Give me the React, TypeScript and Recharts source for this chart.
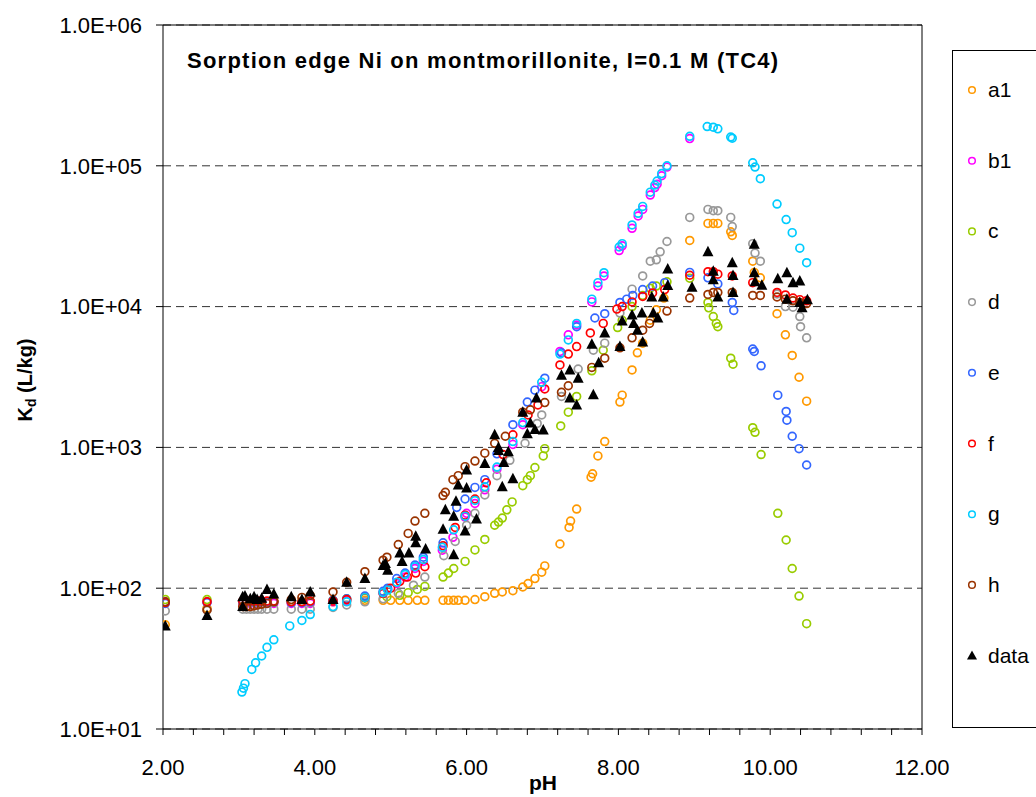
import React from "react";
import {
  ScatterChart,
  Scatter,
  XAxis,
  YAxis,
  CartesianGrid,
  ReferenceLine,
} from "recharts";

type Pt = [number, number];

// pH, Kd (L/kg)
const a1: Pt[] = [
  [2.03, 55], [2.58, 72], [3.05, 80], [3.15, 80], [3.25, 80], [3.37, 80], [3.46, 80],
  [3.69, 80], [3.83, 80], [3.94, 80], [4.24, 80], [4.42, 81], [4.66, 82], [4.9, 82],
  [5.0, 82], [5.12, 82], [5.23, 82], [5.35, 82], [5.45, 82], [5.69, 82], [5.76, 82],
  [5.83, 82], [5.89, 82], [5.98, 82], [6.11, 83], [6.24, 87], [6.37, 92], [6.47, 94],
  [6.61, 96], [6.74, 102], [6.81, 108], [6.9, 117], [6.99, 130], [7.03, 144],
  [7.23, 206], [7.35, 270], [7.37, 300], [7.45, 365], [7.64, 615], [7.66, 650],
  [7.73, 870], [7.82, 1100], [8.02, 2100], [8.05, 2350], [8.18, 3550], [8.25, 4700],
  [8.32, 5500], [8.42, 8000], [8.5, 9500], [8.6, 11500], [8.94, 29500], [9.18, 39000],
  [9.25, 39000], [9.31, 39000], [9.48, 34000], [9.5, 32000], [9.77, 21000],
  [9.79, 17500], [9.87, 16000], [10.09, 8900], [10.2, 6300], [10.29, 4500],
  [10.38, 3150], [10.48, 2130],
];

// b1 is hidden under g past the peak, so only the visible part is kept
const b1: Pt[] = [
  [2.03, 80], [2.58, 80], [3.05, 78], [3.15, 78], [3.25, 78], [3.37, 78], [3.46, 78],
  [3.69, 78], [3.83, 78], [3.94, 78], [4.24, 80], [4.42, 82], [4.66, 86], [4.9, 92],
  [4.96, 98], [5.08, 108], [5.19, 120], [5.32, 138], [5.43, 155], [5.68, 186],
  [5.82, 230], [5.98, 320], [6.0, 340], [6.11, 400], [6.24, 500], [6.4, 700],
  [6.61, 1050], [6.74, 1450], [6.99, 2700], [7.23, 4800], [7.34, 6300], [7.45, 7400],
  [7.65, 10800], [7.73, 14000], [7.81, 16500], [8.01, 25000], [8.05, 27000],
  [8.18, 36000], [8.26, 44000], [8.32, 49000], [8.42, 62000], [8.48, 70000],
  [8.51, 74000], [8.57, 85000], [8.64, 98000], [8.94, 156000],
];

const c: Pt[] = [
  [2.03, 83], [2.58, 83], [3.05, 80], [3.15, 80], [3.25, 80], [3.37, 80], [3.46, 80],
  [3.69, 80], [3.83, 80], [3.94, 80], [4.24, 82], [4.42, 84], [4.66, 85], [4.95, 87],
  [5.12, 89], [5.23, 93], [5.35, 98], [5.45, 103], [5.69, 120], [5.76, 128],
  [5.83, 138], [5.98, 155], [6.11, 187], [6.24, 222], [6.37, 280], [6.42, 295],
  [6.47, 315], [6.53, 360], [6.6, 410], [6.74, 535], [6.8, 590], [6.84, 630],
  [6.9, 720], [7.01, 870], [7.03, 980], [7.24, 1420], [7.34, 1780], [7.45, 2300],
  [7.65, 3500], [7.8, 4900], [7.99, 7100], [8.05, 8000], [8.18, 10000], [8.32, 12000],
  [8.42, 13500], [8.5, 14000], [8.64, 15000], [8.94, 15900], [9.18, 10700],
  [9.19, 9800], [9.25, 8500], [9.29, 7600], [9.31, 7200], [9.48, 4300], [9.51, 3900],
  [9.77, 1380], [9.8, 1280], [9.88, 890], [10.1, 340], [10.21, 220], [10.29, 138],
  [10.38, 88], [10.48, 56],
];

const d: Pt[] = [
  [2.03, 69], [2.58, 70], [3.05, 71], [3.1, 71], [3.15, 71], [3.2, 71], [3.25, 71],
  [3.3, 71], [3.37, 71], [3.46, 71], [3.69, 71], [3.83, 71], [3.94, 71], [4.24, 73],
  [4.42, 76], [4.66, 80], [4.9, 84], [5.1, 92], [5.3, 105], [5.45, 120], [5.7, 170],
  [5.85, 215], [6.0, 280], [6.11, 340], [6.24, 460], [6.4, 630], [6.57, 810],
  [6.77, 1070], [6.93, 1480], [6.99, 1700], [7.25, 2300], [7.47, 3600], [7.67, 4900],
  [7.82, 5500], [8.02, 9000], [8.18, 13300], [8.32, 16500], [8.42, 21000],
  [8.5, 21500], [8.55, 24500], [8.64, 29000], [8.94, 43000], [9.18, 49000],
  [9.25, 48000], [9.31, 48000], [9.48, 43000], [9.5, 37000], [9.77, 28000],
  [9.8, 24000], [9.87, 21000], [10.09, 12300], [10.2, 10000], [10.3, 9900],
  [10.39, 8500], [10.4, 7200], [10.48, 6000],
];

const e: Pt[] = [
  [2.03, 78], [2.58, 79], [3.05, 80], [3.1, 80], [3.15, 80], [3.2, 80], [3.25, 80],
  [3.3, 80], [3.37, 80], [3.46, 80], [3.69, 79], [3.83, 79], [3.94, 80], [4.24, 82],
  [4.42, 84], [4.66, 88], [4.9, 95], [4.96, 100], [5.08, 117], [5.19, 128],
  [5.32, 146], [5.43, 166], [5.69, 210], [5.87, 375], [5.98, 430], [6.11, 520],
  [6.24, 590], [6.4, 900], [6.61, 1450], [6.8, 2100], [6.9, 2550], [7.03, 3100],
  [7.25, 4700], [7.45, 7200], [7.69, 8300], [7.82, 8900], [8.02, 10700],
  [8.11, 11300], [8.19, 12000], [8.32, 13200], [8.45, 14000], [8.61, 14800],
  [8.94, 17500], [9.18, 16000], [9.31, 14500], [9.5, 10700], [9.52, 9400],
  [9.77, 5000], [9.79, 4800], [9.88, 3800], [10.1, 2350], [10.21, 1800],
  [10.22, 1560], [10.29, 1200], [10.38, 980], [10.48, 750],
];

const f: Pt[] = [
  [2.03, 79], [2.58, 80], [3.05, 81], [3.1, 81], [3.15, 81], [3.2, 81], [3.25, 81],
  [3.3, 81], [3.37, 81], [3.46, 81], [3.69, 80], [3.83, 80], [3.94, 81], [4.24, 81],
  [4.42, 83], [4.66, 86], [4.9, 92], [5.0, 100], [5.12, 112], [5.22, 120],
  [5.33, 128], [5.45, 142], [5.69, 200], [5.85, 270], [5.98, 330], [6.11, 430],
  [6.26, 560], [6.48, 890], [6.61, 1230], [6.81, 1700], [6.94, 2000], [7.03, 2600],
  [7.23, 3850], [7.34, 4600], [7.45, 5200], [7.63, 6500], [7.8, 7600], [7.98, 9600],
  [8.05, 10000], [8.18, 10800], [8.32, 11800], [8.45, 12500], [8.61, 13200],
  [8.94, 16700], [9.18, 17700], [9.25, 17700], [9.31, 17000], [9.5, 16500],
  [9.77, 14800], [10.09, 12600], [10.2, 12100], [10.3, 11500], [10.39, 11200],
  [10.48, 11000],
];

const g: Pt[] = [
  [3.04, 18.3], [3.06, 19.5], [3.08, 21], [3.17, 26.5], [3.22, 29.5], [3.3, 33],
  [3.37, 38], [3.46, 43], [3.67, 54], [3.83, 59], [3.94, 65], [4.24, 74], [4.42, 80],
  [4.66, 86], [4.9, 93], [4.96, 97], [5.08, 110], [5.19, 125], [5.32, 142],
  [5.43, 160], [5.68, 195], [5.83, 260], [5.98, 325], [6.11, 420], [6.24, 525],
  [6.4, 725], [6.61, 1100], [6.74, 1500], [6.99, 2900], [7.23, 4600], [7.34, 5800],
  [7.45, 7600], [7.65, 11300], [7.73, 14800], [7.81, 17400], [8.01, 26500],
  [8.05, 28000], [8.18, 38000], [8.26, 46000], [8.32, 51500], [8.42, 65000],
  [8.48, 73000], [8.51, 78000], [8.57, 88000], [8.64, 100000], [8.94, 162000],
  [9.17, 190000], [9.25, 188000], [9.31, 183000], [9.48, 160000], [9.5, 157000],
  [9.77, 105000], [9.8, 98000], [9.87, 81000], [10.09, 53500], [10.21, 41500],
  [10.29, 33500], [10.39, 26000], [10.48, 20500],
];

const h: Pt[] = [
  [2.03, 80], [2.58, 70], [3.05, 74], [3.1, 74], [3.15, 74], [3.2, 75], [3.25, 76],
  [3.3, 77], [3.37, 78], [3.46, 80], [3.69, 83], [3.83, 86], [3.94, 89], [4.24, 94],
  [4.42, 110], [4.66, 131], [4.9, 158], [4.95, 166], [5.1, 204], [5.23, 245],
  [5.32, 300], [5.45, 340], [5.69, 455], [5.72, 480], [5.82, 590], [5.89, 630],
  [5.98, 730], [6.11, 800], [6.24, 910], [6.37, 1070], [6.51, 1200], [6.74, 1780],
  [6.84, 1850], [7.03, 2080], [7.25, 2460], [7.34, 2740], [7.65, 3700], [7.82, 4300],
  [8.02, 5100], [8.18, 6000], [8.32, 6800], [8.41, 7600], [8.64, 9300], [8.94, 11500],
  [9.18, 12200], [9.25, 12600], [9.31, 12600], [9.5, 12600], [9.77, 12000],
  [9.87, 12000], [10.09, 11700], [10.2, 11300], [10.3, 11000], [10.39, 10700],
  [10.48, 10500],
];

const measured: Pt[] = [
  [2.03, 54], [2.58, 64], [3.05, 87], [3.05, 74], [3.08, 88], [3.15, 84], [3.2, 87],
  [3.24, 83], [3.3, 85], [3.37, 98], [3.46, 91], [3.69, 87], [3.83, 83], [3.94, 94],
  [4.24, 83], [4.42, 110], [4.66, 117], [4.9, 145], [4.93, 150], [4.96, 134],
  [5.12, 178], [5.15, 155], [5.24, 178], [5.33, 234], [5.33, 210], [5.46, 190],
  [5.69, 262], [5.72, 360], [5.83, 173], [5.83, 325], [5.86, 415], [5.89, 540],
  [5.98, 255], [6.0, 690], [6.0, 515], [6.13, 310], [6.24, 770], [6.37, 1230],
  [6.42, 1000], [6.42, 950], [6.47, 525], [6.49, 780], [6.55, 930], [6.61, 600],
  [6.74, 1780], [6.8, 1250], [6.84, 1490], [6.9, 1340], [6.92, 2240], [7.01, 1330],
  [7.25, 3250], [7.36, 3550], [7.36, 2240], [7.45, 2000], [7.47, 3100], [7.65, 5400],
  [7.67, 2370], [7.74, 4000], [7.82, 6500], [8.02, 5200], [8.05, 7900], [8.18, 8700],
  [8.2, 7600], [8.25, 6800], [8.31, 9000], [8.32, 5600], [8.44, 11700], [8.46, 9000],
  [8.52, 8300], [8.59, 11700], [8.65, 14100], [8.65, 18500], [8.97, 13700],
  [9.18, 24500], [9.25, 17800], [9.25, 15500], [9.31, 11700], [9.5, 20500],
  [9.51, 16600], [9.51, 12600], [9.79, 27700], [9.79, 17400], [9.8, 15000],
  [9.89, 14200], [10.1, 15800], [10.22, 17400], [10.3, 14800], [10.39, 15200],
  [10.22, 11300], [10.39, 10700], [10.49, 11200], [10.42, 9800],
];

const seriesNames = ["a1", "b1", "c", "d", "e", "f", "g", "h", "data"];
const seriesColors = [
  "#FF9900", "#FF00FF", "#99CC00", "#999999", "#3366FF",
  "#FF0000", "#00CCFF", "#993300", "#000000",
];
const seriesPoints = [a1, b1, c, d, e, f, g, h, measured];

const xTicks = [
  2, 2.4, 2.8, 3.2, 3.6, 4, 4.4, 4.8, 5.2, 5.6, 6, 6.4, 6.8, 7.2, 7.6, 8,
  8.4, 8.8, 9.2, 9.6, 10, 10.4, 10.8, 11.2, 11.6, 12,
];
const yTicks = [10, 100, 1000, 10000, 100000, 1000000];

const FONT = "'Liberation Sans', Arial, sans-serif";

const toPoints = (pts: Pt[]) => pts.map(([x, y]) => ({ x, y }));

const formatX = (v: number) => {
  const r = Math.round(v);
  if (Math.abs(v - r) < 1e-6 && r % 2 === 0) return v.toFixed(2);
  return "";
};

const formatY = (v: number) => {
  const p = Math.round(Math.log10(v));
  return `1.0E+${String(p).padStart(2, "0")}`;
};

const ring = (color: string) => (props: any) => {
  const { cx, cy } = props;
  if (cx == null || cy == null) return <g />;
  return <circle cx={cx} cy={cy} r={3.9} fill="none" stroke={color} strokeWidth={1.7} />;
};

const triangle = (props: any) => {
  const { cx, cy } = props;
  if (cx == null || cy == null) return <g />;
  return (
    <path
      d={`M${cx},${cy - 6} L${cx + 5.5},${cy + 4.5} L${cx - 5.5},${cy + 4.5} Z`}
      fill="#000"
    />
  );
};

const YLabel = () => (
  <text
    transform="translate(32, 380) rotate(-90)"
    textAnchor="middle"
    fontFamily={FONT}
    fontWeight="bold"
    fontSize={20}
    fill="#000"
  >
    K<tspan fontSize={14} dy={4}>d</tspan>
    <tspan dy={-4}> (L/kg)</tspan>
  </text>
);

const XLabel = () => (
  <text
    x={543}
    y={790}
    textAnchor="middle"
    fontFamily={FONT}
    fontWeight="bold"
    fontSize={21}
    fill="#000"
  >
    pH
  </text>
);

const Overlay = () => {
  const rowTop = 90;
  const rowGap = 70.7;
  return (
    <svg
      width={1036}
      height={797}
      style={{ position: "absolute", left: 0, top: 0, pointerEvents: "none" }}
    >
      <text
        x={187}
        y={68}
        fontFamily={FONT}
        fontWeight="bold"
        fontSize={22}
        letterSpacing={1.25}
        fill="#000"
      >
        Sorption edge Ni on montmorillonite, I=0.1 M (TC4)
      </text>
      <rect x={952.5} y={50.5} width={120} height={677} fill="#fff" stroke="#000" strokeWidth={1} />
      {seriesNames.map((name, i) => {
        const y = rowTop + i * rowGap;
        return (
          <g key={name}>
            {name === "data" ? (
              <path d={`M972,${y - 5} L977,${y + 4} L967,${y + 4} Z`} fill="#000" />
            ) : (
              <circle cx={972} cy={y} r={3.3} fill="none" stroke={seriesColors[i]} strokeWidth={1.5} />
            )}
            <text
              x={988}
              y={y + 7}
              fontFamily={FONT}
              fontSize={21}
              fill="#000"
            >
              {name}
            </text>
          </g>
        );
      })}
    </svg>
  );
};

export default function App() {
  return (
    <div
      style={{
        position: "absolute",
        left: 0,
        top: 0,
        width: 1036,
        height: 797,
        overflow: "hidden",
        background: "#fff",
        fontFamily: FONT,
      }}
    >
      <ScatterChart
        width={1036}
        height={797}
        margin={{ top: 25, right: 114, bottom: 0, left: 0 }}
      >
        <CartesianGrid
          vertical={false}
          stroke="#333"
          strokeWidth={1}
          strokeDasharray="8 5"
        />
        <XAxis
          type="number"
          dataKey="x"
          domain={[2, 12]}
          ticks={xTicks}
          interval={0}
          tickFormatter={formatX}
          height={68}
          tickSize={6}
          tickMargin={24}
          axisLine={{ stroke: "#000" }}
          tickLine={{ stroke: "#000" }}
          tick={{ fill: "#000", fontSize: 22, fontFamily: FONT }}
          allowDataOverflow
          label={<XLabel />}
        />
        <YAxis
          type="number"
          dataKey="y"
          scale="log"
          domain={[10, 1000000]}
          ticks={yTicks}
          interval={0}
          tickFormatter={formatY}
          width={163}
          tickSize={7}
          tickMargin={14}
          axisLine={{ stroke: "#000" }}
          tickLine={{ stroke: "#000" }}
          tick={{ fill: "#000", fontSize: 22, fontFamily: FONT }}
          allowDataOverflow
          label={<YLabel />}
        />
        <ReferenceLine y={1000000} stroke="#000" strokeWidth={1} />
        <ReferenceLine x={12} stroke="#000" strokeWidth={1} />
        {seriesPoints.map((pts, i) => (
          <Scatter
            key={seriesNames[i]}
            name={seriesNames[i]}
            data={toPoints(pts)}
            shape={seriesNames[i] === "data" ? triangle : ring(seriesColors[i])}
            isAnimationActive={false}
          />
        ))}
      </ScatterChart>
      <Overlay />
    </div>
  );
}
